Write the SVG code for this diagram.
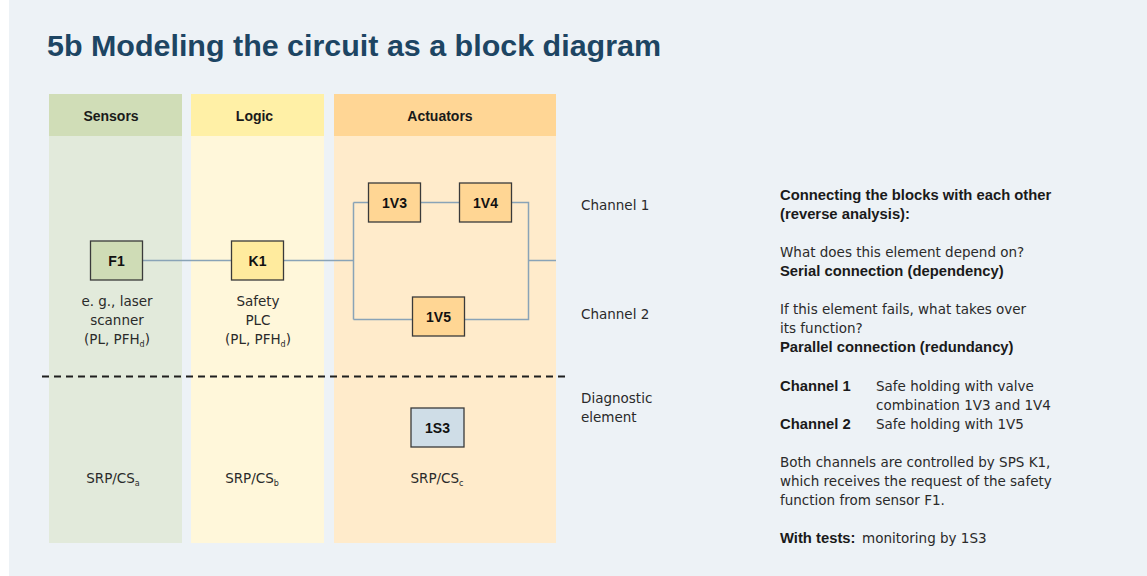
<svg xmlns="http://www.w3.org/2000/svg" width="1147" height="576" viewBox="0 0 1147 576">
<style>
.title{font-family:"Liberation Sans",Arial,sans-serif;font-weight:bold;font-size:29.5px;fill:#1d4563}
.hdr{font-family:"Liberation Sans",Arial,sans-serif;font-weight:bold;font-size:14px;fill:#1a1a1a;text-anchor:middle}
.nl{font-family:"Liberation Sans",Arial,sans-serif;font-weight:bold;font-size:14px;fill:#111;text-anchor:middle}
.t{font-family:"DejaVu Sans",sans-serif;font-size:13.5px;fill:#2a2a2a}
.tc{font-family:"DejaVu Sans",sans-serif;font-size:13.5px;fill:#2a2a2a;text-anchor:middle}
.b{font-family:"Liberation Sans",Arial,sans-serif;font-weight:bold;font-size:14.8px;fill:#1a1a1a}
.sub{font-size:8px}
.box{stroke:#3a3a3a;stroke-width:1.3}
.conn{fill:none;stroke:#89a3b7;stroke-width:1.5}
</style>
<rect x="9" y="0" width="1138" height="576" fill="#edf2f6"/>
<text class="title" x="47" y="56" textLength="614" lengthAdjust="spacingAndGlyphs">5b Modeling the circuit as a block diagram</text>

<g id="col-sensors">
<rect x="49" y="94" width="133" height="449" fill="#e2eadb"/>
<rect x="49" y="94" width="133" height="42" fill="#d0ddb7"/>
<text class="hdr" x="111" y="121">Sensors</text>
<text class="tc" x="117" y="306">e. g., laser</text>
<text class="tc" x="117" y="325">scanner</text>
<text class="tc" x="117" y="344">(PL, PFH<tspan class="sub" dy="3">d</tspan><tspan dy="-3">)</tspan></text>
<text class="tc" x="113" y="483">SRP/CS<tspan class="sub" dy="3">a</tspan></text>
</g>
<g id="col-logic">
<rect x="191" y="94" width="133" height="449" fill="#fff7da"/>
<rect x="191" y="94" width="133" height="42" fill="#fff0a6"/>
<text class="hdr" x="254.5" y="121">Logic</text>
<text class="tc" x="258" y="306">Safety</text>
<text class="tc" x="258" y="325">PLC</text>
<text class="tc" x="258" y="344">(PL, PFH<tspan class="sub" dy="3">d</tspan><tspan dy="-3">)</tspan></text>
<text class="tc" x="252" y="483">SRP/CS<tspan class="sub" dy="3">b</tspan></text>
</g>
<g id="col-actuators">
<rect x="334" y="94" width="222" height="449" fill="#ffebcb"/>
<rect x="334" y="94" width="222" height="42" fill="#ffd695"/>
<text class="hdr" x="440" y="121">Actuators</text>
<text class="tc" x="437" y="483">SRP/CS<tspan class="sub" dy="3">c</tspan></text>
</g>

<g id="connectors">
<path class="conn" d="M143 260.5H231"/>
<path class="conn" d="M284 260.5H353.5M353.5 202.5V319.5M353.5 202.5H368M421 202.5H459M512 202.5H528.5V319.5H465M412 319.5H353.5M528.5 260.5H556"/>
<line x1="42" y1="376.5" x2="566" y2="376.5" stroke="#1f1f1f" stroke-width="1.8" stroke-dasharray="7,5"/>
</g>

<g id="F1"><rect class="box" x="90.5" y="241" width="52" height="39" fill="#cfdcb6"/><text class="nl" x="116.5" y="265.5">F1</text></g>
<g id="K1"><rect class="box" x="231.5" y="241" width="52" height="39" fill="#ffeb9e"/><text class="nl" x="257.5" y="265.5">K1</text></g>
<g id="1V3"><rect class="box" x="368.5" y="183" width="52" height="39" fill="#ffd694"/><text class="nl" x="394.5" y="207.5">1V3</text></g>
<g id="1V4"><rect class="box" x="459.5" y="183" width="52" height="39" fill="#ffd694"/><text class="nl" x="485.5" y="207.5">1V4</text></g>
<g id="1V5"><rect class="box" x="412.5" y="297" width="52" height="39" fill="#ffd694"/><text class="nl" x="438.5" y="321.5">1V5</text></g>
<g id="1S3"><rect class="box" x="411" y="408" width="53" height="39" fill="#cfdde7"/><text class="nl" x="437.5" y="432.5">1S3</text></g>

<g id="side-labels">
<text class="t" x="581" y="210">Channel 1</text>
<text class="t" x="581" y="319">Channel 2</text>
<text class="t" x="581" y="403">Diagnostic</text>
<text class="t" x="581" y="422">element</text>
</g>

<g id="explanation">
<text class="b" x="780" y="200">Connecting the blocks with each other</text>
<text class="b" x="780" y="219">(reverse analysis):</text>
<text class="t" x="780" y="257">What does this element depend on?</text>
<text class="b" x="780" y="276">Serial connection (dependency)</text>
<text class="t" x="780" y="314">If this element fails, what takes over</text>
<text class="t" x="780" y="333">its function?</text>
<text class="b" x="780" y="352">Parallel connection (redundancy)</text>
<text class="b" x="780" y="391">Channel 1</text>
<text class="t" x="876" y="391">Safe holding with valve</text>
<text class="t" x="876" y="410">combination 1V3 and 1V4</text>
<text class="b" x="780" y="429">Channel 2</text>
<text class="t" x="876" y="429">Safe holding with 1V5</text>
<text class="t" x="780" y="467">Both channels are controlled by SPS K1,</text>
<text class="t" x="780" y="486">which receives the request of the safety</text>
<text class="t" x="780" y="505">function from sensor F1.</text>
<text class="b" x="780" y="543">With tests:</text>
<text class="t" x="862" y="543">monitoring by 1S3</text>
</g>
</svg>
